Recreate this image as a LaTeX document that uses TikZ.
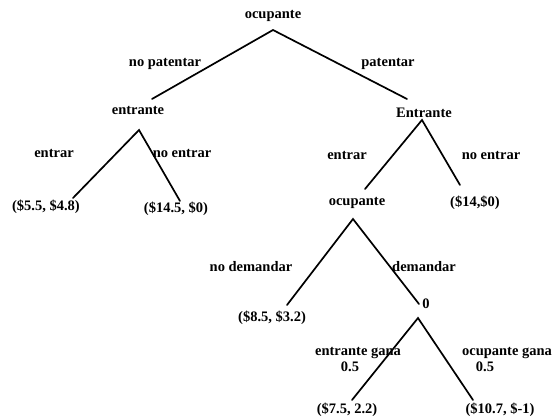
\documentclass[tikz,border=0pt]{standalone}
\usepackage{fontspec}
\setmainfont{Liberation Serif}
\begin{document}
\begin{tikzpicture}[x=1pt,y=-1pt,
  lbl/.style={font=\bfseries\fontsize{14.5}{15}\selectfont, inner sep=0pt},
  branch/.style={line width=1.7pt, line cap=round}]
\useasboundingbox[fill=white] (0,0) rectangle (558,420);

% decision points and leaf ends
\coordinate (v0) at (273,30);
\coordinate (v1) at (139,130);
\coordinate (v2) at (422,120);
\coordinate (v3) at (353,219);
\coordinate (v4) at (418,318);
\coordinate (e11) at (152,99);
\coordinate (e12) at (407,99);
\coordinate (e21) at (73,198);
\coordinate (e22) at (180,201);
\coordinate (e31) at (365,189);
\coordinate (e32) at (460,185);
\coordinate (e41) at (287,305);
\coordinate (e42) at (419,304);
\coordinate (e51) at (352,400);
\coordinate (e52) at (473,400);

% players and payoffs
\node[lbl] (p0) at (273,16) {ocupante};
\node[lbl] (p1) at (138,110) {entrante};
\node[lbl] (p2) at (424,113) {Entrante};
\node[lbl] (p3) at (357,203) {ocupante};
\node[lbl] (p4) at (426,304) {0};
\node[lbl] (u1) at (46,207) {(\$5.5, \$4.8)};
\node[lbl] (u2) at (176,209) {(\$14.5, \$0)};
\node[lbl] (u3) at (475,203) {(\$14,\$0)};
\node[lbl] (u4) at (272,318) {(\$8.5, \$3.2)};
\node[lbl] (u5) at (347,410) {(\$7.5, 2.2)};
\node[lbl] (u6) at (500,410) {(\$10.7, \$-1)};

% action labels
\node[lbl] (a1) at (165,64) {no patentar};
\node[lbl] (a2) at (388,64) {patentar};
\node[lbl] (a3) at (54,153) {entrar};
\node[lbl] (a4) at (182,153) {no entrar};
\node[lbl] (a5) at (347,155) {entrar};
\node[lbl] (a6) at (491,155) {no entrar};
\node[lbl] (a7) at (251,267) {no demandar};
\node[lbl, anchor=west] (a8) at (392,267) {demandar};
\node[lbl] (a9) at (358,353) {entrante gana};
\node[lbl] (a10) at (350,367) {0.5};
\node[lbl] (a11) at (507,353) {ocupante gana};
\node[lbl] (a12) at (485,367) {0.5};

% branches
\draw[branch] (e11) -- (v0) -- (e12);
\draw[branch] (e21) -- (v1) -- (e22);
\draw[branch] (e31) -- (v2) -- (e32);
\draw[branch] (e41) -- (v3) -- (e42);
\draw[branch] (e51) -- (v4) -- (e52);
\end{tikzpicture}
\end{document}
